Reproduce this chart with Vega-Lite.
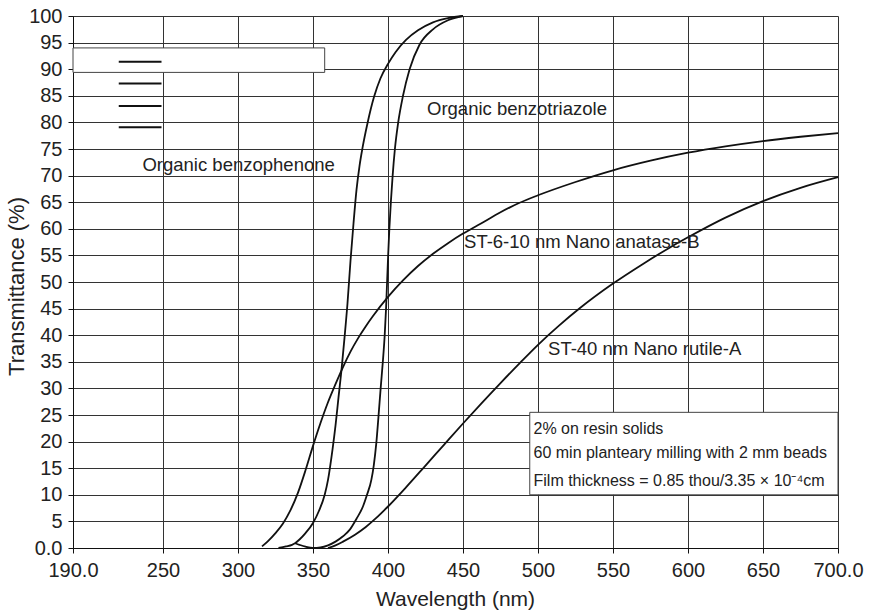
{
  "$schema": "https://vega.github.io/schema/vega-lite/v6.json",
  "width": 765,
  "height": 532,
  "autosize": {"type": "none"},
  "padding": {"left": 73, "top": 16, "right": 31, "bottom": 62},
  "background": "white",
  "config": {
    "view": {"stroke": null},
    "font": "Liberation Sans",
    "axis": {
      "grid": true,
      "gridColor": "#333333",
      "gridWidth": 1,
      "domainColor": "#111111",
      "tickColor": "#111111",
      "tickSize": 5,
      "labelFontSize": 20,
      "labelColor": "#222222",
      "titleFontWeight": "normal",
      "titleColor": "#222222"
    }
  },
  "datasets": {
    "curves": [
      {"series": "ST-6-10 nm Nano anatase-B", "x": 316, "y": 0.3},
      {"series": "ST-6-10 nm Nano anatase-B", "x": 320, "y": 1.3},
      {"series": "ST-6-10 nm Nano anatase-B", "x": 325, "y": 2.8},
      {"series": "ST-6-10 nm Nano anatase-B", "x": 330, "y": 4.6},
      {"series": "ST-6-10 nm Nano anatase-B", "x": 335, "y": 7.1},
      {"series": "ST-6-10 nm Nano anatase-B", "x": 340, "y": 10.4},
      {"series": "ST-6-10 nm Nano anatase-B", "x": 345, "y": 14.6},
      {"series": "ST-6-10 nm Nano anatase-B", "x": 350, "y": 19.2},
      {"series": "ST-6-10 nm Nano anatase-B", "x": 355, "y": 23.5},
      {"series": "ST-6-10 nm Nano anatase-B", "x": 360, "y": 27.4},
      {"series": "ST-6-10 nm Nano anatase-B", "x": 365, "y": 30.8},
      {"series": "ST-6-10 nm Nano anatase-B", "x": 370, "y": 34},
      {"series": "ST-6-10 nm Nano anatase-B", "x": 375, "y": 36.9},
      {"series": "ST-6-10 nm Nano anatase-B", "x": 380, "y": 39.4},
      {"series": "ST-6-10 nm Nano anatase-B", "x": 385, "y": 41.6},
      {"series": "ST-6-10 nm Nano anatase-B", "x": 390, "y": 43.6},
      {"series": "ST-6-10 nm Nano anatase-B", "x": 400, "y": 47.2},
      {"series": "ST-6-10 nm Nano anatase-B", "x": 410, "y": 50.3},
      {"series": "ST-6-10 nm Nano anatase-B", "x": 420, "y": 53},
      {"series": "ST-6-10 nm Nano anatase-B", "x": 430, "y": 55.3},
      {"series": "ST-6-10 nm Nano anatase-B", "x": 440, "y": 57.3},
      {"series": "ST-6-10 nm Nano anatase-B", "x": 450, "y": 59.1},
      {"series": "ST-6-10 nm Nano anatase-B", "x": 462, "y": 61},
      {"series": "ST-6-10 nm Nano anatase-B", "x": 475, "y": 63.1},
      {"series": "ST-6-10 nm Nano anatase-B", "x": 487, "y": 64.8},
      {"series": "ST-6-10 nm Nano anatase-B", "x": 500, "y": 66.3},
      {"series": "ST-6-10 nm Nano anatase-B", "x": 525, "y": 68.8},
      {"series": "ST-6-10 nm Nano anatase-B", "x": 550, "y": 71},
      {"series": "ST-6-10 nm Nano anatase-B", "x": 575, "y": 72.8},
      {"series": "ST-6-10 nm Nano anatase-B", "x": 600, "y": 74.3},
      {"series": "ST-6-10 nm Nano anatase-B", "x": 625, "y": 75.5},
      {"series": "ST-6-10 nm Nano anatase-B", "x": 650, "y": 76.5},
      {"series": "ST-6-10 nm Nano anatase-B", "x": 675, "y": 77.3},
      {"series": "ST-6-10 nm Nano anatase-B", "x": 700, "y": 78},

      {"series": "Organic benzophenone", "x": 327, "y": 0},
      {"series": "Organic benzophenone", "x": 332, "y": 0.3},
      {"series": "Organic benzophenone", "x": 336, "y": 0.6},
      {"series": "Organic benzophenone", "x": 338, "y": 0.9},
      {"series": "Organic benzophenone", "x": 341, "y": 1.6},
      {"series": "Organic benzophenone", "x": 345, "y": 2.8},
      {"series": "Organic benzophenone", "x": 350, "y": 4.7},
      {"series": "Organic benzophenone", "x": 354, "y": 7},
      {"series": "Organic benzophenone", "x": 357.8, "y": 10},
      {"series": "Organic benzophenone", "x": 360, "y": 12.8},
      {"series": "Organic benzophenone", "x": 363, "y": 18.5},
      {"series": "Organic benzophenone", "x": 365, "y": 23},
      {"series": "Organic benzophenone", "x": 367, "y": 28.3},
      {"series": "Organic benzophenone", "x": 369, "y": 33.5},
      {"series": "Organic benzophenone", "x": 371, "y": 39.5},
      {"series": "Organic benzophenone", "x": 373, "y": 46},
      {"series": "Organic benzophenone", "x": 375, "y": 54},
      {"series": "Organic benzophenone", "x": 377, "y": 61},
      {"series": "Organic benzophenone", "x": 379, "y": 67.3},
      {"series": "Organic benzophenone", "x": 381, "y": 71.8},
      {"series": "Organic benzophenone", "x": 383, "y": 75.2},
      {"series": "Organic benzophenone", "x": 386.3, "y": 79.8},
      {"series": "Organic benzophenone", "x": 390.7, "y": 84.8},
      {"series": "Organic benzophenone", "x": 395, "y": 88.3},
      {"series": "Organic benzophenone", "x": 400, "y": 91},
      {"series": "Organic benzophenone", "x": 405, "y": 93.2},
      {"series": "Organic benzophenone", "x": 412, "y": 95.5},
      {"series": "Organic benzophenone", "x": 420, "y": 97.3},
      {"series": "Organic benzophenone", "x": 430, "y": 98.8},
      {"series": "Organic benzophenone", "x": 440, "y": 99.6},
      {"series": "Organic benzophenone", "x": 450, "y": 100},

      {"series": "Organic benzotriazole", "x": 338, "y": 0.9},
      {"series": "Organic benzotriazole", "x": 341, "y": 0.6},
      {"series": "Organic benzotriazole", "x": 345, "y": 0.25},
      {"series": "Organic benzotriazole", "x": 350, "y": 0},
      {"series": "Organic benzotriazole", "x": 355, "y": 0.1},
      {"series": "Organic benzotriazole", "x": 360, "y": 0.5},
      {"series": "Organic benzotriazole", "x": 365, "y": 1.2},
      {"series": "Organic benzotriazole", "x": 370, "y": 2.2},
      {"series": "Organic benzotriazole", "x": 374.4, "y": 3.4},
      {"series": "Organic benzotriazole", "x": 379, "y": 5.5},
      {"series": "Organic benzotriazole", "x": 383.3, "y": 7.8},
      {"series": "Organic benzotriazole", "x": 386, "y": 10},
      {"series": "Organic benzotriazole", "x": 388.9, "y": 12.8},
      {"series": "Organic benzotriazole", "x": 390.5, "y": 15.5},
      {"series": "Organic benzotriazole", "x": 392.2, "y": 19.7},
      {"series": "Organic benzotriazole", "x": 393.6, "y": 24.5},
      {"series": "Organic benzotriazole", "x": 395.1, "y": 30},
      {"series": "Organic benzotriazole", "x": 396.7, "y": 35.5},
      {"series": "Organic benzotriazole", "x": 397.8, "y": 40},
      {"series": "Organic benzotriazole", "x": 398.7, "y": 45},
      {"series": "Organic benzotriazole", "x": 399.4, "y": 50},
      {"series": "Organic benzotriazole", "x": 400.1, "y": 55},
      {"series": "Organic benzotriazole", "x": 400.9, "y": 60},
      {"series": "Organic benzotriazole", "x": 401.9, "y": 65},
      {"series": "Organic benzotriazole", "x": 403.1, "y": 70},
      {"series": "Organic benzotriazole", "x": 404.6, "y": 75},
      {"series": "Organic benzotriazole", "x": 406.8, "y": 80},
      {"series": "Organic benzotriazole", "x": 410, "y": 85},
      {"series": "Organic benzotriazole", "x": 414.4, "y": 90},
      {"series": "Organic benzotriazole", "x": 421, "y": 94.6},
      {"series": "Organic benzotriazole", "x": 430, "y": 97.5},
      {"series": "Organic benzotriazole", "x": 440, "y": 99.2},
      {"series": "Organic benzotriazole", "x": 450, "y": 100},

      {"series": "ST-40 nm Nano rutile-A", "x": 360, "y": 0},
      {"series": "ST-40 nm Nano rutile-A", "x": 365, "y": 0.5},
      {"series": "ST-40 nm Nano rutile-A", "x": 370, "y": 1.2},
      {"series": "ST-40 nm Nano rutile-A", "x": 378, "y": 2.5},
      {"series": "ST-40 nm Nano rutile-A", "x": 385, "y": 3.9},
      {"series": "ST-40 nm Nano rutile-A", "x": 392, "y": 5.6},
      {"series": "ST-40 nm Nano rutile-A", "x": 400, "y": 7.8},
      {"series": "ST-40 nm Nano rutile-A", "x": 412, "y": 11.4},
      {"series": "ST-40 nm Nano rutile-A", "x": 425, "y": 15.5},
      {"series": "ST-40 nm Nano rutile-A", "x": 437, "y": 19.3},
      {"series": "ST-40 nm Nano rutile-A", "x": 450, "y": 23.4},
      {"series": "ST-40 nm Nano rutile-A", "x": 462, "y": 27.1},
      {"series": "ST-40 nm Nano rutile-A", "x": 475, "y": 31},
      {"series": "ST-40 nm Nano rutile-A", "x": 488, "y": 34.8},
      {"series": "ST-40 nm Nano rutile-A", "x": 500, "y": 38.2},
      {"series": "ST-40 nm Nano rutile-A", "x": 514, "y": 41.8},
      {"series": "ST-40 nm Nano rutile-A", "x": 528, "y": 45.1},
      {"series": "ST-40 nm Nano rutile-A", "x": 550, "y": 49.7},
      {"series": "ST-40 nm Nano rutile-A", "x": 570, "y": 53.4},
      {"series": "ST-40 nm Nano rutile-A", "x": 588, "y": 56.5},
      {"series": "ST-40 nm Nano rutile-A", "x": 600, "y": 58.4},
      {"series": "ST-40 nm Nano rutile-A", "x": 625, "y": 62.1},
      {"series": "ST-40 nm Nano rutile-A", "x": 650, "y": 65.2},
      {"series": "ST-40 nm Nano rutile-A", "x": 675, "y": 67.7},
      {"series": "ST-40 nm Nano rutile-A", "x": 700, "y": 69.7}
    ],
    "boxes": [
      {"box": "legend", "x": 190, "x2": 357.8, "y": 94, "y2": 89.4},
      {"box": "note", "x": 494.5, "x2": 700, "y": 25.5, "y2": 10}
    ],
    "keys": [
      {"x": 220.5, "x2": 249, "y": 91.4},
      {"x": 220.5, "x2": 249, "y": 87.3},
      {"x": 220.5, "x2": 249, "y": 83.1},
      {"x": 220.5, "x2": 249, "y": 79.1}
    ],
    "labels": [
      {"x": 236.3, "y": 71.9, "text": "Organic benzophenone"},
      {"x": 426, "y": 82.5, "text": "Organic benzotriazole"},
      {"x": 450.7, "y": 57.5, "text": "ST-6-10 nm Nano anatase-B"},
      {"x": 506.7, "y": 37.5, "text": "ST-40 nm Nano rutile-A"}
    ],
    "notes": [
      {"x": 497, "y": 22.3, "text": "2% on resin solids"},
      {"x": 497, "y": 17.9, "text": "60 min planteary milling with 2 mm beads"},
      {"x": 497, "y": 12.6, "text": "Film thickness = 0.85 thou/3.35 × 10⁻⁴cm"}
    ]
  },
  "encoding": {
    "x": {
      "field": "x",
      "type": "quantitative",
      "scale": {"domain": [190, 700], "nice": false, "zero": false},
      "axis": {
        "values": [190, 250, 300, 350, 400, 450, 500, 550, 600, 650, 700],
        "labelExpr": "datum.value == 190 || datum.value == 700 ? format(datum.value, '.1f') : format(datum.value, 'd')",
        "labelPadding": 7,
        "labelFlush": false,
        "labelOverlap": false,
        "title": "Wavelength (nm)",
        "titleFontSize": 21,
        "titleX": 382,
        "titleY": 57,
        "titleBaseline": "alphabetic",
        "titleAlign": "center"
      }
    },
    "y": {
      "field": "y",
      "type": "quantitative",
      "scale": {"domain": [0, 100], "nice": false},
      "axis": {
        "values": [0, 5, 10, 15, 20, 25, 30, 35, 40, 45, 50, 55, 60, 65, 70, 75, 80, 85, 90, 95, 100],
        "labelExpr": "datum.value == 0 ? '0.0' : format(datum.value, 'd')",
        "labelPadding": 6,
        "labelFlush": false,
        "labelOverlap": false,
        "title": "Transmittance (%)",
        "titleFontSize": 22,
        "titleAngle": -90,
        "titleX": -50,
        "titleY": 270,
        "titleBaseline": "alphabetic",
        "titleAlign": "center"
      }
    }
  },
  "layer": [
    {
      "data": {"name": "boxes"},
      "mark": {"type": "rect", "fill": "white", "stroke": "#444444", "strokeWidth": 1},
      "encoding": {
        "x2": {"field": "x2"},
        "y2": {"field": "y2"}
      }
    },
    {
      "data": {"name": "keys"},
      "mark": {"type": "rule", "color": "#111111", "strokeWidth": 2},
      "encoding": {
        "x2": {"field": "x2"}
      }
    },
    {
      "data": {"name": "curves"},
      "mark": {"type": "line", "color": "#111111", "strokeWidth": 1.8, "interpolate": "monotone"},
      "encoding": {
        "detail": {"field": "series"}
      }
    },
    {
      "data": {"name": "labels"},
      "mark": {"type": "text", "align": "left", "baseline": "middle", "fontSize": 18.5, "color": "#222222", "font": "Liberation Sans"},
      "encoding": {
        "text": {"field": "text"}
      }
    },
    {
      "data": {"name": "notes"},
      "mark": {"type": "text", "align": "left", "baseline": "middle", "fontSize": 16, "color": "#222222", "font": "Liberation Sans"},
      "encoding": {
        "text": {"field": "text"}
      }
    }
  ]
}
